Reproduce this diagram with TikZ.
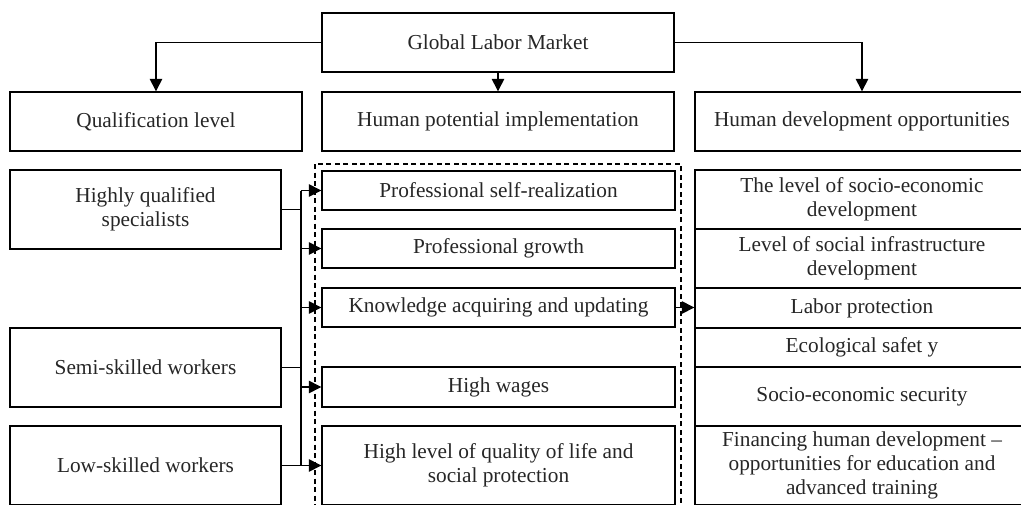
\documentclass[tikz,border=0pt]{standalone}
\usepackage{fontspec}
\setmainfont{Liberation Serif}
\usetikzlibrary{arrows.meta}
\begin{document}
\begin{tikzpicture}[x=1pt,y=-1pt,
  box/.style={draw, line width=1.4pt, inner sep=0pt, align=center, font=\fontsize{21.3}{24}\selectfont, text=black!85},
  con/.style={line width=1.4pt},
  arr/.style={line width=1.4pt, -{Triangle[length=12.5pt,width=12.5pt]}},
  dashbox/.style={line width=1.2pt, dash pattern=on 5pt off 3.5pt}]
\useasboundingbox (0,0) rectangle (1021,504);
\clip (0,0) rectangle (1021,504);
% top level
\node[box, minimum width=352, minimum height=59] (glm) at (498,42.5) {Global Labor Market};
\node[box, minimum width=292, minimum height=59] (qual) at (156,121.5) {Qualification level};
\node[box, minimum width=352, minimum height=59] (hpi) at (498,121.5) {Human potential implementation};
\node[box, minimum width=334, minimum height=59] (hdo) at (862,121.5) {Human development opportunities};
% left column
\node[box, minimum width=271, minimum height=79] (hq) at (145.5,209.5) {Highly qualified\\specialists};
\node[box, minimum width=271, minimum height=79] (semi) at (145.5,367.5) {Semi-skilled workers};
\node[box, minimum width=271, minimum height=79] (low) at (145.5,465.5) {Low-skilled workers};
% dashed group
\draw[dashbox] (315,164) rectangle (681,520);
% middle column
\node[box, minimum width=353, minimum height=39] (psr) at (498.5,190.5) {Professional self-realization};
\node[box, minimum width=353, minimum height=39] (pg) at (498.5,248.5) {Professional growth};
\node[box, minimum width=353, minimum height=39] (kau) at (498.5,307.5) {Knowledge acquiring and updating};
\node[box, minimum width=353, minimum height=40] (hw) at (498.5,387) {High wages};
\node[box, minimum width=353, minimum height=79] (hl) at (498.5,465.5) {High level of quality of life and\\social protection};
% right column
\node[box, minimum width=334, minimum height=59] (r1) at (862,199.5) {The level of socio-economic\\development};
\node[box, minimum width=334, minimum height=59] (r2) at (862,258.5) {Level of social infrastructure\\development};
\node[box, minimum width=334, minimum height=40] (r3) at (862,308) {Labor protection};
\node[box, minimum width=334, minimum height=39] (r4) at (862,347.5) {Ecological safet y};
\node[box, minimum width=334, minimum height=59] (r5) at (862,396.5) {Socio-economic security};
\node[box, minimum width=334, minimum height=79] (r6) at (862,465.5) {Financing human development –\\opportunities for education and\\advanced training};
% connectors from top
\draw[arr] (glm.west) -| (qual.north);
\draw[arr] (glm.south) -- (hpi.north);
\draw[arr] (glm.east) -| (hdo.north);
% bus
\coordinate (bus) at (301,0);
\draw[con] (psr.west -| bus) -- (hl.west -| bus);
\draw[con] (hq.east) -- (hq.east -| bus);
\draw[con] (semi.east) -- (semi.east -| bus);
\draw[con] (low.east) -- (low.east -| bus);
\draw[arr] (psr.west -| bus) -- (psr.west);
\draw[arr] (pg.west -| bus) -- (pg.west);
\draw[arr] (kau.west -| bus) -- (kau.west);
\draw[arr] (hw.west -| bus) -- (hw.west);
\draw[arr] (hl.west -| bus) -- (hl.west);
\draw[arr] (kau.east) -- (kau.east -| r3.west);
\end{tikzpicture}
\end{document}
